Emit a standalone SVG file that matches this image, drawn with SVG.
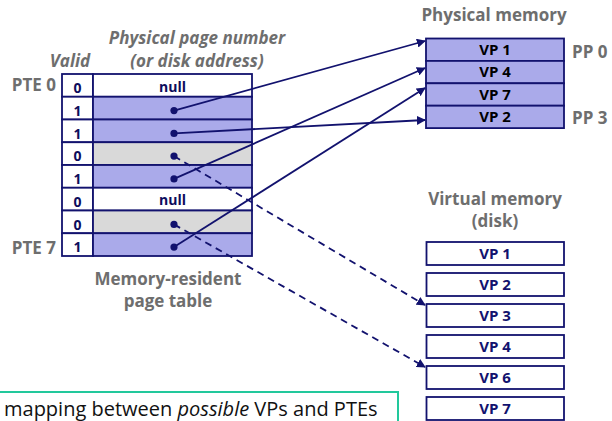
<svg xmlns="http://www.w3.org/2000/svg" width="612" height="421" viewBox="0 0 612 421">
  <defs>
    <marker id="arrow" viewBox="0 0 10 10" refX="9" refY="5" markerWidth="9" markerHeight="9" markerUnits="userSpaceOnUse" orient="auto">
      <path d="M0,0 L10,5 L0,10 z" fill="#12126e"/>
    </marker>
    <style>
      .cell { stroke: #12126e; stroke-width: 1.8; }
      .res { fill: #aaaaea; }
      .disk { fill: #d9d9d9; }
      .empty { fill: #ffffff; }
      .bit, .null, .vp { font-family: "Open Sans", "Liberation Sans", sans-serif; font-weight: bold; fill: #0d0d5c; text-anchor: middle; }
      .bit { font-size: 14px; }
      .null { font-size: 14px; }
      .vp { font-size: 15px; fill: #000000; }
      .vpd { fill: #12126e; }
      .lbl { font-family: "Open Sans", "Liberation Sans", sans-serif; font-weight: bold; font-size: 17px; fill: #6e6e6e; }
      .hdr { font-style: italic; text-anchor: middle; }
      .dot { fill: #12126e; }
      .link { stroke: #12126e; stroke-width: 1.8; fill: none; marker-end: url(#arrow); }
      .dash { stroke-dasharray: 7 5; }
    </style>
  </defs>

  <!-- column headings -->
  <g id="headings">
    <text class="lbl hdr" x="197" y="44">Physical page number</text>
    <text class="lbl hdr" x="197" y="67">(or disk address)</text>
    <text class="lbl hdr" x="70" y="67">Valid</text>
    <text class="lbl" x="56" y="91" text-anchor="end">PTE 0</text>
    <text class="lbl" x="56" y="254" text-anchor="end">PTE 7</text>
    <text class="lbl" x="168" y="285" text-anchor="middle">Memory-resident</text>
    <text class="lbl" x="168" y="307" text-anchor="middle">page table</text>
  </g>

  <!-- page table: valid bit + physical page number / disk address -->
  <g id="page-table">
    <g id="pte0">
      <rect class="cell empty" x="62" y="74" width="31" height="22.75"/>
      <rect class="cell empty" x="93" y="74" width="159" height="22.75"/>
      <text class="bit" x="77.5" y="93">0</text>
      <text class="null" x="172.5" y="91.5">null</text>
    </g>
    <g id="pte1">
      <rect class="cell empty" x="62" y="96.75" width="31" height="22.75"/>
      <rect class="cell res" x="93" y="96.75" width="159" height="22.75"/>
      <text class="bit" x="77.5" y="115.7">1</text>
      <circle class="dot" cx="174" cy="110.6" r="3.6"/>
    </g>
    <g id="pte2">
      <rect class="cell empty" x="62" y="119.5" width="31" height="22.75"/>
      <rect class="cell res" x="93" y="119.5" width="159" height="22.75"/>
      <text class="bit" x="77.5" y="138.5">1</text>
      <circle class="dot" cx="174" cy="133.4" r="3.6"/>
    </g>
    <g id="pte3">
      <rect class="cell empty" x="62" y="142.25" width="31" height="22.75"/>
      <rect class="cell disk" x="93" y="142.25" width="159" height="22.75"/>
      <text class="bit" x="77.5" y="161.2">0</text>
      <circle class="dot" cx="174" cy="156.1" r="3.6"/>
    </g>
    <g id="pte4">
      <rect class="cell empty" x="62" y="165" width="31" height="22.75"/>
      <rect class="cell res" x="93" y="165" width="159" height="22.75"/>
      <text class="bit" x="77.5" y="184">1</text>
      <circle class="dot" cx="174" cy="178.9" r="3.6"/>
    </g>
    <g id="pte5">
      <rect class="cell empty" x="62" y="187.75" width="31" height="22.75"/>
      <rect class="cell empty" x="93" y="187.75" width="159" height="22.75"/>
      <text class="bit" x="77.5" y="206.7">0</text>
      <text class="null" x="172.5" y="205.2">null</text>
    </g>
    <g id="pte6">
      <rect class="cell empty" x="62" y="210.5" width="31" height="22.75"/>
      <rect class="cell disk" x="93" y="210.5" width="159" height="22.75"/>
      <text class="bit" x="77.5" y="229.5">0</text>
      <circle class="dot" cx="174" cy="224.4" r="3.6"/>
    </g>
    <g id="pte7">
      <rect class="cell empty" x="62" y="233.25" width="31" height="22.75"/>
      <rect class="cell res" x="93" y="233.25" width="159" height="22.75"/>
      <text class="bit" x="77.5" y="252.2">1</text>
      <circle class="dot" cx="174" cy="247.1" r="3.6"/>
    </g>
  </g>

  <!-- physical memory (DRAM) -->
  <g id="physical-memory">
    <text class="lbl" x="494" y="21" text-anchor="middle">Physical memory</text>
    <g id="pp0">
      <rect class="cell res" x="426" y="38.5" width="138" height="22.4"/>
      <text class="vp" x="495" y="55">VP 1</text>
    </g>
    <g id="pp1">
      <rect class="cell res" x="426" y="60.9" width="138" height="22.4"/>
      <text class="vp" x="495" y="77.4">VP 4</text>
    </g>
    <g id="pp2">
      <rect class="cell res" x="426" y="83.3" width="138" height="22.4"/>
      <text class="vp" x="495" y="99.8">VP 7</text>
    </g>
    <g id="pp3">
      <rect class="cell res" x="426" y="105.7" width="138" height="22.4"/>
      <text class="vp" x="495" y="122.2">VP 2</text>
    </g>
    <text class="lbl" x="572" y="58">PP 0</text>
    <text class="lbl" x="572" y="124">PP 3</text>
  </g>

  <!-- virtual memory on disk -->
  <g id="virtual-memory">
    <text class="lbl" x="495" y="205" text-anchor="middle">Virtual memory</text>
    <text class="lbl" x="495" y="227" text-anchor="middle">(disk)</text>
    <g id="vm-vp1">
      <rect class="cell empty" x="426.5" y="242" width="137.5" height="23"/>
      <text class="vp vpd" x="495" y="259">VP 1</text>
    </g>
    <g id="vm-vp2">
      <rect class="cell empty" x="426.5" y="273" width="137.5" height="23"/>
      <text class="vp vpd" x="495" y="290">VP 2</text>
    </g>
    <g id="vm-vp3">
      <rect class="cell empty" x="426.5" y="304" width="137.5" height="23"/>
      <text class="vp vpd" x="495" y="321">VP 3</text>
    </g>
    <g id="vm-vp4">
      <rect class="cell empty" x="426.5" y="335" width="137.5" height="23"/>
      <text class="vp vpd" x="495" y="352">VP 4</text>
    </g>
    <g id="vm-vp6">
      <rect class="cell empty" x="426.5" y="366" width="137.5" height="23"/>
      <text class="vp vpd" x="495" y="383">VP 6</text>
    </g>
    <g id="vm-vp7">
      <rect class="cell empty" x="426.5" y="397" width="137.5" height="23"/>
      <text class="vp vpd" x="495" y="414">VP 7</text>
    </g>
  </g>

  <!-- PTE pointers -->
  <g id="connectors">
    <line class="link" x1="174" y1="110.6" x2="425" y2="41"/>
    <line class="link" x1="174" y1="133.4" x2="425" y2="120"/>
    <line class="link" x1="174" y1="178.9" x2="425" y2="68"/>
    <line class="link" x1="174" y1="247.1" x2="425" y2="88"/>
    <line class="link dash" x1="174" y1="156.1" x2="425" y2="305"/>
    <line class="link dash" x1="174" y1="224.4" x2="425" y2="367"/>
  </g>

  <!-- callout note -->
  <g id="note">
    <rect x="-20" y="392" width="418" height="60" fill="#ffffff" stroke="#22c89c" stroke-width="2"/>
    <text x="4" y="416" font-family="'Open Sans', 'Liberation Sans', sans-serif" font-size="20px" fill="#111111">mapping between <tspan font-style="italic">possible</tspan> VPs and PTEs</text>
  </g>
</svg>
